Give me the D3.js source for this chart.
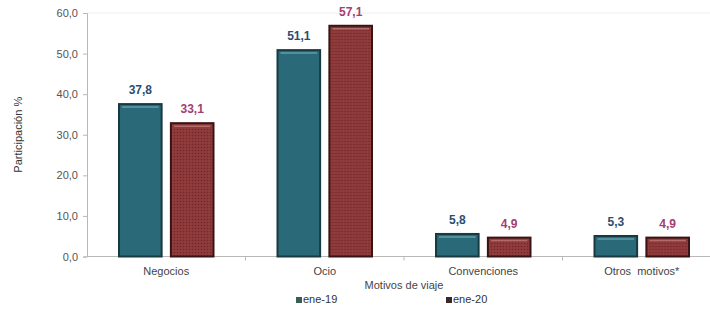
<!DOCTYPE html>
<html>
<head>
<meta charset="utf-8">
<script src="https://cdn.jsdelivr.net/npm/d3@7"></script>
<style>
  html, body { margin: 0; padding: 0; background: #fff; }
  svg { display: block; font-family: "Liberation Sans", Arial, sans-serif; }
</style>
</head>
<body>
<svg id="chart" width="710" height="320"></svg>
<script>
// Travel purpose shares, January 2019 vs January 2020
const categories = ["Negocios", "Ocio", "Convenciones", "Otros  motivos*"];
const series = ["ene-19", "ene-20"];
const ene19 = [37.8, 51.1, 5.8, 5.3];
const ene20 = [33.1, 57.1, 4.9, 4.9];
const yTicks = [0, 10, 20, 30, 40, 50, 60];

const svg = d3.select("#chart");
const margin = { left: 87, right: -11, top: 13, bottom: 63 };
const W = 710, H = 320;

const x = d3.scaleBand()
  .domain(categories)
  .range([margin.left, W - margin.right])
  .paddingInner(0)
  .paddingOuter(0);

const xSub = d3.scaleBand()
  .domain(series)
  .range([31, x.bandwidth() - 31])
  .paddingInner(0.14);

const y = d3.scaleLinear()
  .domain([0, 60])
  .range([H - margin.bottom - 0.5, margin.top]);

const fmt = v => d3.format(".1f")(v).replace(".", ",");

// Texture for the ene-20 bars
const defs = svg.append("defs");
const pat = defs.append("pattern")
  .attr("id", "dots")
  .attr("width", 3).attr("height", 3)
  .attr("patternUnits", "userSpaceOnUse");
pat.append("rect").attr("width", 3).attr("height", 3).attr("fill", "#8c3838");
pat.append("rect").attr("x", 0).attr("y", 0).attr("width", 1).attr("height", 1).attr("fill", "#6e2626");
pat.append("rect").attr("x", 1.5).attr("y", 1.5).attr("width", 1).attr("height", 1).attr("fill", "#9e4646");

// Faint frame of the plot area
svg.append("line")
  .attr("x1", margin.left).attr("x2", W)
  .attr("y1", y(60)).attr("y2", y(60))
  .attr("stroke", "#eeeeee");

// Y axis
const yAxis = d3.axisLeft(y)
  .tickValues(yTicks)
  .tickFormat(fmt)
  .tickSize(4)
  .tickPadding(5);
const gy = svg.append("g")
  .attr("transform", `translate(${margin.left},0)`)
  .call(yAxis);
gy.select(".domain").attr("stroke", "#b8b8b8");
gy.selectAll(".tick line").attr("stroke", "#b8b8b8");
gy.selectAll(".tick text")
  .attr("fill", "#555")
  .attr("font-size", 11)
  .attr("font-family", "Liberation Sans, Arial, sans-serif");

// X axis: baseline with ticks between categories
const gx = svg.append("g")
  .attr("transform", `translate(0,${y(0)})`);
gx.append("line")
  .attr("x1", margin.left).attr("x2", W)
  .attr("stroke", "#b8b8b8");
gx.selectAll("line.sep")
  .data(categories.slice(1))
  .join("line")
  .attr("class", "sep")
  .attr("x1", d => x(d)).attr("x2", d => x(d))
  .attr("y1", 0).attr("y2", 4)
  .attr("stroke", "#b8b8b8");
gx.selectAll("text")
  .data(categories)
  .join("text")
  .attr("x", d => x(d) + x.bandwidth() / 2)
  .attr("y", 18)
  .attr("text-anchor", "middle")
  .attr("font-size", 11)
  .attr("fill", "#444")
  .style("white-space", "pre")
  .text(d => d);

// Bars
const rows = categories.map((c, i) => ({ cat: c, vals: [
  { s: "ene-19", v: ene19[i] },
  { s: "ene-20", v: ene20[i] }
]}));

const groups = svg.selectAll("g.cat")
  .data(rows)
  .join("g")
  .attr("class", "cat")
  .attr("transform", d => `translate(${x(d.cat)},0)`);

const fills = { "ene-19": "#2a6a78", "ene-20": "url(#dots)" };
const strokes = { "ene-19": "#173a42", "ene-20": "#3a1414" };
const shines = { "ene-19": "#5f9fac", "ene-20": "#b46a6a" };
const labelColors = { "ene-19": "#2c4d70", "ene-20": "#a3406e" };

const bar = groups.selectAll("g.bar")
  .data(d => d.vals)
  .join("g")
  .attr("class", "bar");

bar.append("rect")
  .attr("x", d => xSub(d.s) + 1)
  .attr("y", d => y(d.v) + 1)
  .attr("width", xSub.bandwidth() - 2)
  .attr("height", d => y(0) - y(d.v) - 1)
  .attr("fill", d => fills[d.s])
  .attr("stroke", d => strokes[d.s])
  .attr("stroke-width", 2);

bar.append("line")
  .attr("x1", d => xSub(d.s) + 4)
  .attr("x2", d => xSub(d.s) + xSub.bandwidth() - 4)
  .attr("y1", d => y(d.v) + 4)
  .attr("y2", d => y(d.v) + 4)
  .attr("stroke", d => shines[d.s])
  .attr("stroke-width", 1.5);

bar.append("text")
  .attr("x", d => xSub(d.s) + xSub.bandwidth() / 2)
  .attr("y", d => y(d.v) - 9)
  .attr("text-anchor", "middle")
  .attr("font-size", 12)
  .attr("font-weight", "bold")
  .attr("fill", d => labelColors[d.s])
  .text(d => fmt(d.v));

// Axis titles
svg.append("text")
  .attr("x", (margin.left + W - margin.right) / 2)
  .attr("y", 289)
  .attr("text-anchor", "middle")
  .attr("font-size", 11)
  .attr("fill", "#444")
  .text("Motivos de viaje");

svg.append("text")
  .attr("transform", `translate(22,${(y(0) + y(60)) / 2}) rotate(-90)`)
  .attr("text-anchor", "middle")
  .attr("font-size", 11)
  .attr("fill", "#333")
  .text("Participación %");

// Legend
const legendX = [296, 446];
const legendSwatch = { "ene-19": "#3b5e54", "ene-20": "#3a2828" };
const lg = svg.selectAll("g.legend")
  .data(series)
  .join("g")
  .attr("class", "legend")
  .attr("transform", (d, i) => `translate(${legendX[i]},303)`);
lg.append("rect")
  .attr("x", 0).attr("y", -6)
  .attr("width", 6).attr("height", 6)
  .attr("fill", d => legendSwatch[d]);
lg.append("text")
  .attr("x", 7).attr("y", 0)
  .attr("font-size", 11)
  .attr("fill", "#333")
  .text(d => d);
</script>
</body>
</html>
